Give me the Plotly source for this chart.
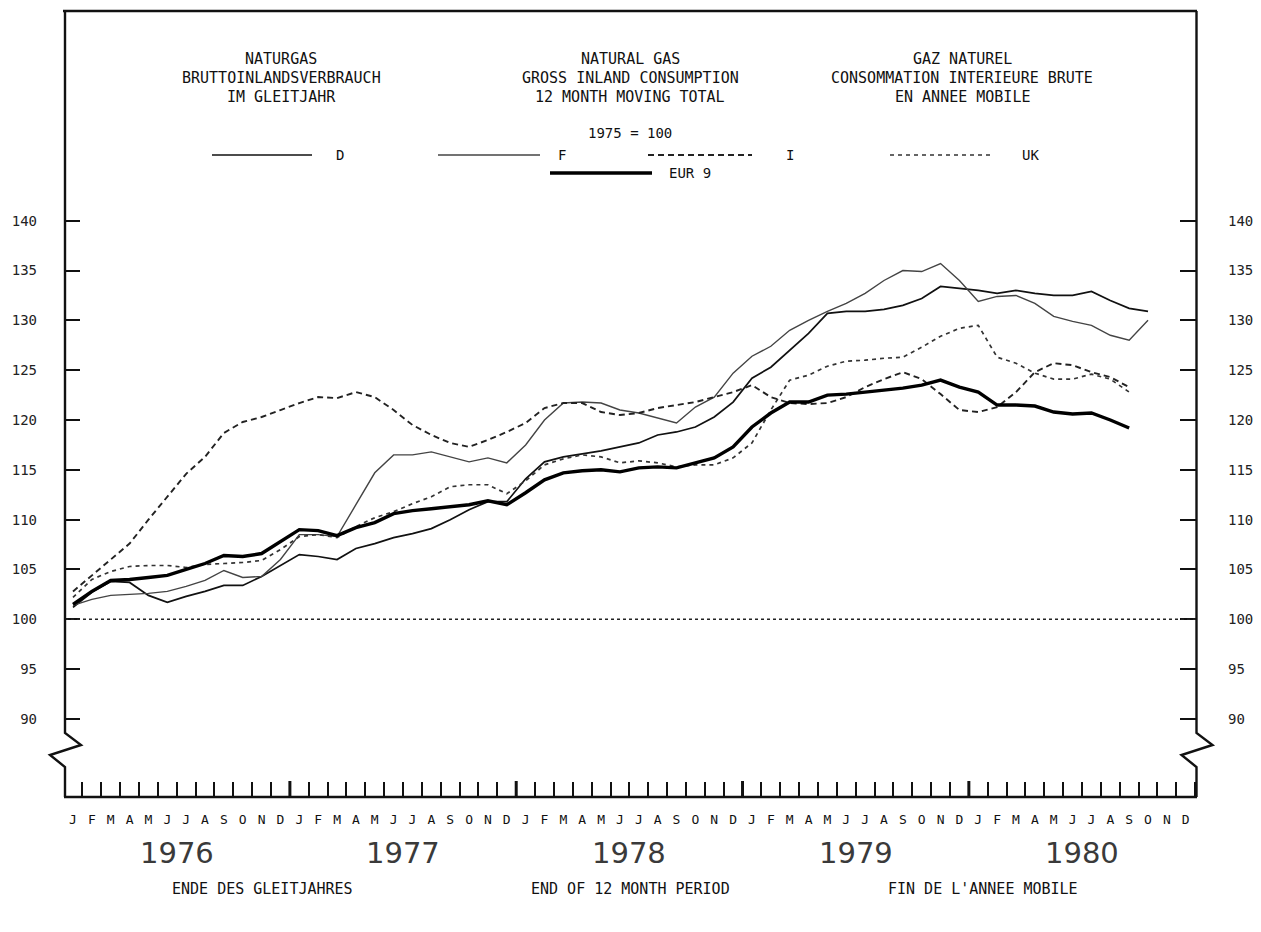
import plotly.graph_objects as go

# ---------------- data (index 1975 = 100, 12 month moving total) ----------------
months = ["J", "F", "M", "A", "M", "J", "J", "A", "S", "O", "N", "D"]
years = ["1976", "1977", "1978", "1979", "1980"]

D = [101.2, 102.7, 103.8, 103.7, 102.4, 101.7, 102.3, 102.8, 103.4, 103.4, 104.3, 105.4,
     106.5, 106.3, 106.0, 107.1, 107.6, 108.2, 108.6, 109.1, 110.0, 111.0, 111.8, 111.8,
     114.1, 115.8, 116.3, 116.6, 116.9, 117.3, 117.7, 118.5, 118.8, 119.3, 120.3, 121.8,
     124.2, 125.3, 127.0, 128.7, 130.7, 130.9, 130.9, 131.1, 131.5, 132.2, 133.4, 133.2,
     133.0, 132.7, 133.0, 132.7, 132.5, 132.5, 132.9, 132.0, 131.2, 130.9]

F = [101.4, 102.0, 102.4, 102.5, 102.6, 102.8, 103.3, 103.9, 104.9, 104.2, 104.3, 106.0,
     108.5, 108.5, 108.3, 111.5, 114.7, 116.5, 116.5, 116.8, 116.3, 115.8, 116.2, 115.7,
     117.5, 120.0, 121.7, 121.8, 121.7, 121.0, 120.7, 120.2, 119.7, 121.3, 122.3, 124.7,
     126.4, 127.4, 129.0, 130.0, 130.9, 131.7, 132.7, 134.0, 135.0, 134.9, 135.7, 134.0,
     131.9, 132.4, 132.5, 131.7, 130.4, 129.9, 129.5, 128.5, 128.0, 130.0]

I = [102.8, 104.4, 106.0, 107.6, 110.0, 112.3, 114.6, 116.3, 118.7, 119.8, 120.3, 121.0,
     121.7, 122.3, 122.2, 122.8, 122.3, 121.0, 119.5, 118.5, 117.7, 117.3, 118.0, 118.8,
     119.7, 121.2, 121.7, 121.7, 120.8, 120.5, 120.7, 121.2, 121.5, 121.8, 122.3, 122.8,
     123.5, 122.3, 121.7, 121.6, 121.7, 122.3, 123.3, 124.1, 124.8, 124.1, 122.6, 121.0,
     120.8, 121.3, 122.8, 124.8, 125.7, 125.5, 124.8, 124.3, 123.3]

UK = [102.2, 104.0, 104.8, 105.3, 105.4, 105.4, 105.2, 105.5, 105.6, 105.7, 105.9, 107.0,
      108.3, 108.5, 108.2, 109.3, 110.2, 110.8, 111.6, 112.3, 113.3, 113.5, 113.5, 112.6,
      113.9, 115.5, 116.1, 116.5, 116.3, 115.7, 115.9, 115.7, 115.3, 115.5, 115.5, 116.2,
      117.7, 121.0, 124.0, 124.5, 125.4, 125.9, 126.0, 126.2, 126.3, 127.3, 128.4, 129.2,
      129.5, 126.3, 125.7, 124.7, 124.1, 124.1, 124.6, 124.1, 122.8]

EUR9 = [101.5, 102.8, 103.9, 104.0, 104.2, 104.4, 105.0, 105.6, 106.4, 106.3, 106.6, 107.8,
        109.0, 108.9, 108.4, 109.2, 109.7, 110.6, 110.9, 111.1, 111.3, 111.5, 111.9, 111.5,
        112.7, 114.0, 114.7, 114.9, 115.0, 114.8, 115.2, 115.3, 115.2, 115.7, 116.2, 117.3,
        119.3, 120.7, 121.8, 121.8, 122.5, 122.6, 122.8, 123.0, 123.2, 123.5, 124.0, 123.3,
        122.8, 121.5, 121.5, 121.4, 120.8, 120.6, 120.7, 120.0, 119.2]

y_ticks = [90, 95, 100, 105, 110, 115, 120, 125, 130, 135, 140]
base_value = 100

title_de = ["NATURGAS", "BRUTTOINLANDSVERBRAUCH", "IM GLEITJAHR"]
title_en = ["NATURAL GAS", "GROSS INLAND CONSUMPTION", "12 MONTH MOVING TOTAL"]
title_fr = ["GAZ NATUREL", "CONSOMMATION INTERIEURE BRUTE", "EN ANNEE MOBILE"]
base_text = "1975 = 100"
footer = ["ENDE DES GLEITJAHRES", "END OF 12 MONTH PERIOD", "FIN DE L'ANNEE MOBILE"]

# ---------------- geometry helpers (screen pixels -> paper) ----------------
OFF = 8                      # default page margin of the html body
W, H = 1261 - 2 * OFF, 932 - 2 * OFF
L, R, T, B = 65, 1196, 11, 797   # plot frame in screen pixels
Lf, Rf, Tf, Bf = L - OFF, R - OFF, T - OFF, B - OFF


def px(x):
    return (x - L) / (R - L)


def py(y):
    return (B - y) / (B - T)


MONO = "DejaVu Sans Mono"
INK = "#111111"

n_months = len(months) * len(years)
x_all = list(range(n_months))
month_labels = months * len(years)

fig = go.Figure()

styles = [
    (D, dict(color="#111111", width=1.7), "D"),
    (F, dict(color="#444444", width=1.4), "F"),
    (I, dict(color="#222222", width=1.9, dash="6px,4px"), "I"),
    (UK, dict(color="#333333", width=1.7, dash="4px,4px"), "UK"),
    (EUR9, dict(color="#000000", width=3.4), "EUR 9"),
]
for vals, line, name in styles:
    fig.add_trace(go.Scatter(x=x_all[:len(vals)], y=vals, mode="lines", line=line,
                             name=name, showlegend=False, hoverinfo="skip"))

# invisible trace on the right axis so it is drawn
fig.add_trace(go.Scatter(x=[0], y=[base_value], yaxis="y2", mode="markers",
                         marker=dict(opacity=0), showlegend=False, hoverinfo="skip"))

shapes = []
# 1975 = 100 dotted reference line
shapes.append(dict(type="line", xref="paper", yref="y", x0=0, x1=1, y0=base_value, y1=base_value,
                   line=dict(color="#222222", width=1.5, dash="dot")))

# frame: top and bottom
shapes.append(dict(type="line", xref="paper", yref="paper", x0=px(63), x1=px(1197), y0=py(11), y1=py(11),
                   line=dict(color=INK, width=2.4)))
shapes.append(dict(type="line", xref="paper", yref="paper", x0=px(64), x1=px(1197), y0=py(797), y1=py(797),
                   line=dict(color=INK, width=2.4)))


def axis_path(x0):
    pts = [(x0, 11), (x0, 733), (x0 + 16, 745), (x0 - 15, 755), (x0, 767), (x0, 797)]
    return "M " + " L ".join(f"{px(a):.5f},{py(b):.5f}" for a, b in pts)


shapes.append(dict(type="path", xref="paper", yref="paper", path=axis_path(65),
                   line=dict(color=INK, width=2.4)))
shapes.append(dict(type="path", xref="paper", yref="paper", path=axis_path(1196.5),
                   line=dict(color=INK, width=2.4)))

# bold year boundary ticks
for k in range(1, len(years)):
    xb = 12 * k - 0.5
    shapes.append(dict(type="line", xref="x", yref="paper", x0=xb, x1=xb, y0=0, y1=py(781),
                       line=dict(color=INK, width=3)))

annotations = []


def text(x, y, t, size, family=MONO, color=INK, xref="paper"):
    annotations.append(dict(x=x, y=y, xref=xref, yref="paper", text=t, showarrow=False,
                            xanchor="center", yanchor="middle",
                            font=dict(family=family, size=size, color=color)))


# legend samples
legend_items = [
    (212, 312, 155, dict(color="#111111", width=1.7), "D", 340),
    (438, 540, 155, dict(color="#444444", width=1.4), "F", 562),
    (648, 752, 155, dict(color="#222222", width=1.9, dash="6px,4px"), "I", 790),
    (890, 990, 155, dict(color="#333333", width=1.7, dash="4px,4px"), "UK", 1030),
    (550, 652, 173, dict(color="#000000", width=3.4), "EUR 9", 690),
]
for xa, xb2, yy, line, lab, xl in legend_items:
    shapes.append(dict(type="line", xref="paper", yref="paper", x0=px(xa), x1=px(xb2),
                       y0=py(yy), y1=py(yy), line=line))
    text(px(xl), py(yy), lab, 14)

# titles
for lines_, cx in [(title_de, 281), (title_en, 630), (title_fr, 962)]:
    for j, t in enumerate(lines_):
        text(px(cx), py(59 + 19 * j), t, 15)
text(px(630), py(133), base_text, 14)

# year labels centred under each year
for k, yr in enumerate(years):
    text(12 * k + 5.5, py(853), yr, 29, family="DejaVu Sans", color="#3a3a3a", xref="x")

# footer
for t, cx in zip(footer, [262, 630, 983]):
    text(px(cx), py(889), t, 15)

x_lo = (L - 73) / 18.86
x_hi = (R - 73) / 18.86
y_lo = base_value - (B - 619.3) / 9.965
y_hi = base_value + (619.3 - T) / 9.965

fig.update_layout(
    width=W, height=H,
    margin=dict(l=Lf, r=W - Rf, t=Tf, b=H - Bf, autoexpand=False),
    paper_bgcolor="white", plot_bgcolor="white",
    showlegend=False,
    shapes=shapes, annotations=annotations,
    xaxis=dict(range=[x_lo, x_hi], showgrid=False, zeroline=False, showline=False,
               tickmode="array", tickvals=x_all, ticktext=month_labels, ticks="",
               ticklabelstandoff=13,
               tickfont=dict(family=MONO, size=13, color=INK),
               minor=dict(tickmode="linear", tick0=0.5, dtick=1, ticks="inside", ticklen=15,
                          tickwidth=1.6, tickcolor=INK, showgrid=False)),
    yaxis=dict(range=[y_lo, y_hi], showgrid=False, zeroline=False, showline=False,
               tickmode="array", tickvals=y_ticks, ticks="inside", ticklen=15, tickwidth=1.5,
               tickcolor=INK, ticklabelstandoff=27,
               tickfont=dict(family=MONO, size=14, color="#222222")),
    yaxis2=dict(range=[y_lo, y_hi], overlaying="y", side="right", showgrid=False, zeroline=False,
                showline=False, tickmode="array", tickvals=y_ticks, ticks="inside", ticklen=16,
                tickwidth=1.5, tickcolor=INK, ticklabelstandoff=31,
                tickfont=dict(family=MONO, size=14, color="#222222")),
)

fig.write_html("out.html")
